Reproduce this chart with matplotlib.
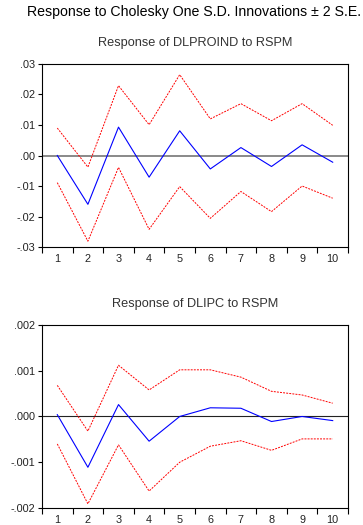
import numpy as np
import matplotlib.pyplot as plt
from matplotlib.ticker import FuncFormatter

plt.rcParams['font.family'] = ['Liberation Sans', 'DejaVu Sans']

periods = np.arange(1, 11)

# Response of DLPROIND to RSPM
proind_resp = [0.0, -0.0160, 0.0093, -0.0071, 0.0081, -0.0044, 0.0026, -0.0036, 0.0035, -0.0022]
proind_upper = [0.0090, -0.0038, 0.0229, 0.0101, 0.0265, 0.0120, 0.0170, 0.0114, 0.0170, 0.0099]
proind_lower = [-0.0089, -0.0281, -0.0039, -0.0242, -0.0102, -0.0206, -0.0118, -0.0184, -0.0100, -0.0140]

# Response of DLIPC to RSPM
ipc_resp = [0.00004, -0.00111, 0.00026, -0.00054, 0.0, 0.00019, 0.00018, -0.00011, 0.0, -0.00009]
ipc_upper = [0.00068, -0.00032, 0.00112, 0.00058, 0.00102, 0.00102, 0.00086, 0.00055, 0.00047, 0.00029]
ipc_lower = [-0.00060, -0.00191, -0.00062, -0.00163, -0.00100, -0.00065, -0.00053, -0.00074, -0.00049, -0.00049]


def fmt(decimals):
    def f(v, pos):
        s = ('%.' + str(decimals) + 'f') % v
        if s.startswith('-0'):
            s = '-' + s[2:]
        elif s.startswith('0'):
            s = s[1:]
        return s
    return FuncFormatter(f)


def panel(ax, title, resp, upper, lower, lim, step, dec, zero_color, zero_lw):
    ax.axhline(0, color=zero_color, lw=zero_lw, zorder=1)
    ax.plot(periods, upper, color='red', lw=0.7, ls=(0, (2, 1.2)), zorder=2)
    ax.plot(periods, lower, color='red', lw=0.7, ls=(0, (2, 1.2)), zorder=2)
    ax.plot(periods, resp, color='blue', lw=0.8, zorder=3)
    ax.set_xlim(0.5, 10.5)
    ax.set_ylim(-lim, lim)
    ax.set_yticks(np.arange(-lim, lim + step / 2, step))
    ax.yaxis.set_major_formatter(fmt(dec))
    ax.set_xticks(periods)
    ax.set_xticks(np.arange(0.5, 11, 1), minor=True)
    ax.tick_params(axis='x', which='major', length=0, labelsize=7.8, pad=5, labelcolor='#222222')
    ax.tick_params(axis='x', which='minor', length=4, width=0.8, direction='out')
    ax.tick_params(axis='y', length=3, width=0.8, labelsize=7.8, pad=2, labelcolor='#222222')
    for s in ax.spines.values():
        s.set_linewidth(0.8)
    ax.set_title(title, fontsize=9.2, color='#333333', pad=13)


fig = plt.figure(figsize=(3.63, 5.25), dpi=100)
ax1 = fig.add_axes([0.1157, 0.5295, 0.843, 0.3486])
ax2 = fig.add_axes([0.1157, 0.0324, 0.843, 0.3486])

panel(ax1, 'Response of DLPROIND to RSPM', proind_resp, proind_upper, proind_lower,
      0.03, 0.01, 2, '#808080', 1.3)
panel(ax2, 'Response of DLIPC to RSPM', ipc_resp, ipc_upper, ipc_lower,
      0.002, 0.001, 3, '#222222', 0.8)

fig.text(0.535, 0.977, 'Response to Cholesky One S.D. Innovations \u00b1 2 S.E.',
         ha='center', va='center', fontsize=10.2)

fig.savefig('out.png', dpi=100)
